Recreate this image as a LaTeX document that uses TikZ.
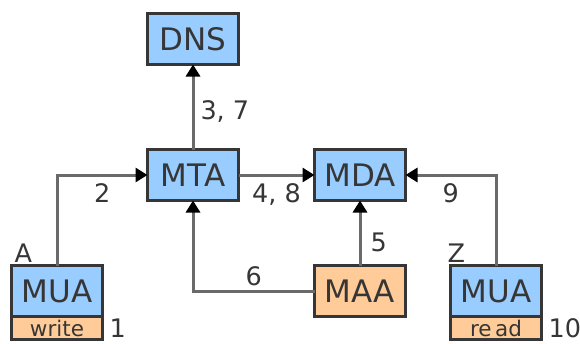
\documentclass[tikz,border=0pt]{standalone}
\usepackage{fontspec}
\setmainfont{DejaVu Sans}
\usetikzlibrary{positioning,arrows.meta}

\definecolor{boxblue}{HTML}{99CCFF}
\definecolor{boxorange}{HTML}{FFCC99}
\definecolor{edgegray}{HTML}{6A6A6A}
\definecolor{inkgray}{HTML}{363636}

\begin{document}
\begin{tikzpicture}[x=1pt,y=-1pt,
	agent/.style={draw=inkgray, line width=2.2pt, fill=boxblue, minimum width=91pt, minimum height=51pt, inner sep=0pt, outer sep=0pt, text=inkgray, font=\fontsize{31}{33}\selectfont},
	helper/.style={agent, fill=boxorange},
	task/.style={draw=inkgray, line width=2.2pt, fill=boxorange, minimum width=91pt, minimum height=23pt, inner sep=0pt, outer sep=0pt, text=inkgray, font=\fontsize{21.5}{23}\selectfont},
	tag/.style={text=inkgray, font=\fontsize{25.5}{27}\selectfont, inner sep=1pt},
	flow/.style={draw=edgegray, line width=3pt, -{Triangle[length=12pt,width=14pt,color=black]}}]
	\useasboundingbox (0,0) rectangle (580,343);

	% agents
	\node[agent] (mta) at (193,175) {MTA};
	\node[agent] (dns) [above=85pt of mta] {DNS};
	\node[agent] (mda) [right=76pt of mta] {MDA};
	\node[helper] (maa) [below=65pt of mda] {MAA};
	\node[agent] (muaA) [left=212pt of maa] {MUA};
	\node[agent] (muaZ) [right=45pt of maa] {MUA};
	\node[task] (write) [below=0pt of muaA] {write};
	\node[task] (read) [below=0pt of muaZ] {re\,ad};

	% user names and step numbers
	\node[tag, above right=2pt and 2pt of muaA.north west, anchor=south west] (userA) {A};
	\node[tag, above right=2pt and -4pt of muaZ.north west, anchor=south west] (userZ) {Z};
	\node[tag, right=6pt of write] (stepwrite) {1};
	\node[tag, right=6pt of read] (stepread) {10};

	% message flow
	\draw[flow] (muaA.north) |- node[tag, pos=0.75, below=6pt] {2} (mta.west);
	\draw[flow] (mta.north) -- node[tag, pos=0.45, right=5pt] {3, 7} (dns.south);
	\draw[flow] (mta.east) -- node[tag, below=6pt] {4, 8} (mda.west);
	\draw[flow] (maa.north) -- node[tag, pos=0.36, right=8pt] {5} (mda.south);
	\draw[flow] (maa.west) -| node[tag, pos=0.25, above=3pt] {6} (mta.south);
	\draw[flow] (muaZ.north) |- node[tag, pos=0.75, below=6pt] {9} (mda.east);
\end{tikzpicture}
\end{document}
